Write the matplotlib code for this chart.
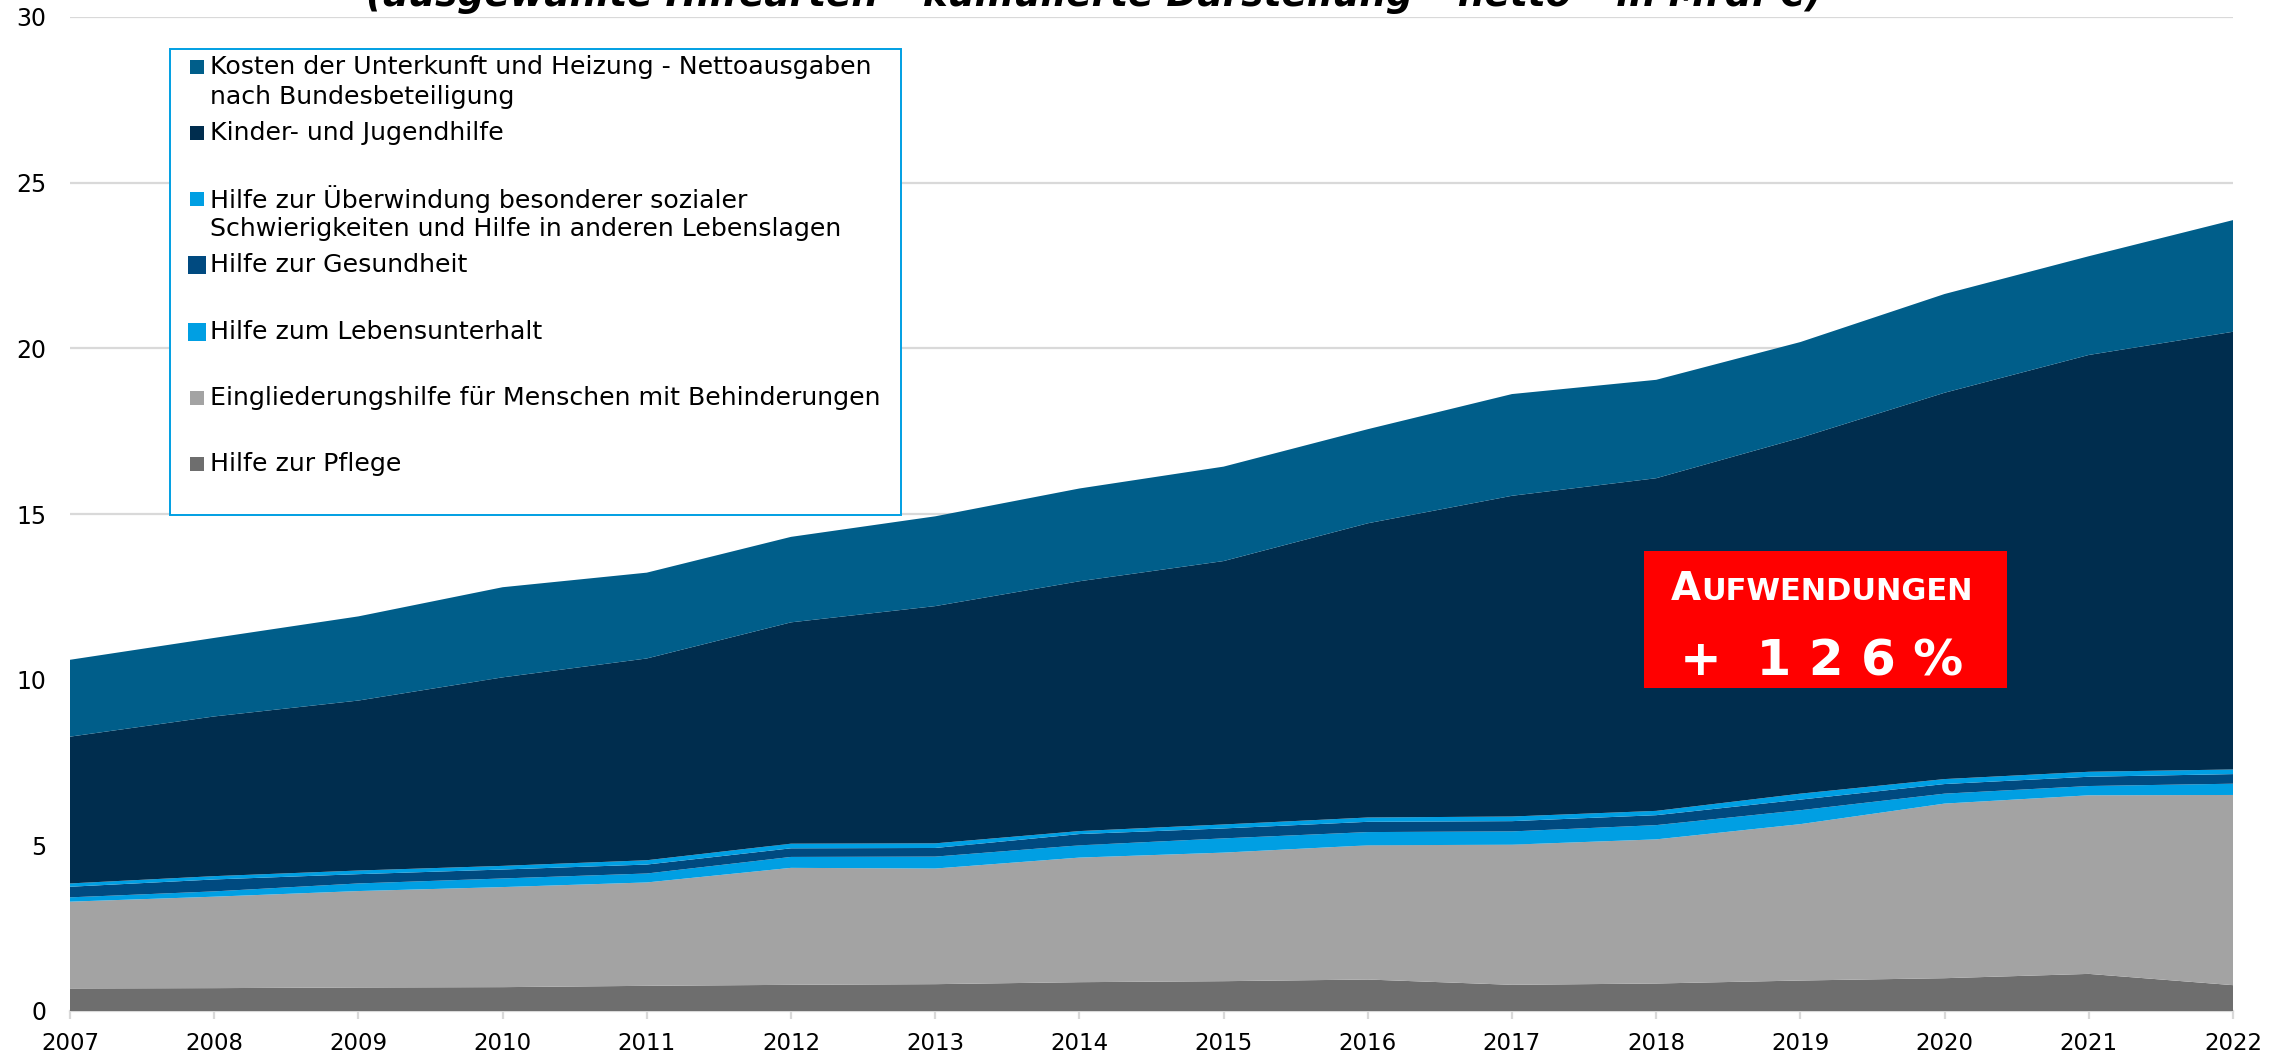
import matplotlib
matplotlib.use("Agg")
import matplotlib.pyplot as plt
from matplotlib.patches import Rectangle
from matplotlib.offsetbox import TextArea, HPacker, AnnotationBbox

# ── Data (Mrd. €, netto, per Hilfeart) ─────────────────────────────────────────
years = [2007, 2008, 2009, 2010, 2011, 2012, 2013, 2014,
         2015, 2016, 2017, 2018, 2019, 2020, 2021, 2022]

pflege       = [0.68, 0.69, 0.71, 0.72, 0.76, 0.79, 0.81, 0.87,
                0.90, 0.95, 0.79, 0.83, 0.92, 0.99, 1.12, 0.78]
eingliederung = [2.62, 2.76, 2.91, 3.02, 3.12, 3.53, 3.49, 3.76,
                 3.88, 4.05, 4.23, 4.35, 4.72, 5.27, 5.39, 5.74]
lebensunterhalt = [0.13, 0.16, 0.23, 0.26, 0.27, 0.33, 0.36, 0.37,
                   0.43, 0.40, 0.40, 0.43, 0.42, 0.30, 0.28, 0.34]
gesundheit   = [0.32, 0.36, 0.28, 0.27, 0.27, 0.26, 0.26, 0.34,
                0.30, 0.31, 0.31, 0.30, 0.32, 0.29, 0.28, 0.29]
ueberwindung = [0.10, 0.10, 0.11, 0.11, 0.13, 0.14, 0.14, 0.09,
                0.12, 0.13, 0.14, 0.13, 0.18, 0.15, 0.15, 0.14]
jugendhilfe  = [4.43, 4.82, 5.13, 5.69, 6.09, 6.68, 7.16, 7.54,
                7.95, 8.88, 9.68, 10.04, 10.74, 11.66, 12.58, 13.21]
unterkunft   = [2.32, 2.37, 2.54, 2.72, 2.59, 2.58, 2.71, 2.80,
                2.85, 2.84, 3.07, 2.97, 2.89, 2.98, 2.98, 3.37]

# bottom → top
series = [pflege, eingliederung, lebensunterhalt, gesundheit,
          ueberwindung, jugendhilfe, unterkunft]
colors = ["#6E6E6E", "#A3A3A3", "#009FE3", "#004A80",
          "#009FE3", "#002D4E", "#005E8A"]

# legend, top → bottom (each entry: lines of text, colour, square size px)
legend_entries = [
    (["Kosten der Unterkunft und Heizung - Nettoausgaben", "nach Bundesbeteiligung"], "#005E8A", 14),
    (["Kinder- und Jugendhilfe"], "#002D4E", 14),
    (["Hilfe zur Überwindung besonderer sozialer",
      "Schwierigkeiten und Hilfe in anderen Lebenslagen"], "#009FE3", 14),
    (["Hilfe zur Gesundheit"], "#004A80", 18),
    (["Hilfe zum Lebensunterhalt"], "#009FE3", 18),
    (["Eingliederungshilfe für Menschen mit Behinderungen"], "#A3A3A3", 14),
    (["Hilfe zur Pflege"], "#6E6E6E", 14),
]

title = "(ausgewählte Hilfearten – kumulierte Darstellung – netto – in Mrd. €)"
GRID = "#D9D9D9"

# ── Figure ─────────────────────────────────────────────────────────────────────
fig = plt.figure(figsize=(22.75, 10.55), dpi=100)
ax = fig.add_axes([70 / 2275, 44 / 1055, 2163 / 2275, 994 / 1055])

ax.stackplot(years, *series, colors=colors, linewidth=0)

ax.set_xlim(2007, 2022)
ax.set_ylim(0, 30)
ax.set_xticks(years)
ax.set_yticks(range(0, 31, 5))
ax.yaxis.grid(True, color=GRID, linewidth=1.6)
ax.set_axisbelow(True)

for s in ["top", "right", "left"]:
    ax.spines[s].set_visible(False)
ax.spines["bottom"].set_color(GRID)
ax.spines["bottom"].set_linewidth(1.6)
ax.spines["bottom"].set_zorder(0.5)

ax.tick_params(axis="x", length=6, width=1.6, color=GRID, pad=9,
               labelsize=16.5, labelcolor="black")
ax.tick_params(axis="y", length=0, pad=17, labelsize=17, labelcolor="black")

# title sits mostly above the canvas, as in the source slide
fig.text(0.481, 1 - 6 / 1055, title, ha="center", va="baseline",
         fontsize=27, fontstyle="italic", fontweight="bold", color="black")

# ── Legend box (drawn by hand to match the spacing) ───────────────────────────
ax.add_patch(Rectangle((0.0462, 0.499), 0.338, 0.469, transform=ax.transAxes,
                       facecolor="white", edgecolor="#009FE3", linewidth=1.4,
                       zorder=5))
ax_w, ax_h = 2163, 994
y0, step, line_gap = 0.950, 0.0666, 0.0300
for k, (lines, col, sz) in enumerate(legend_entries):
    y = y0 - k * step
    w, h = sz / ax_w, sz / ax_h
    ax.add_patch(Rectangle((0.0587 - w / 2, y - h / 2), w, h,
                           transform=ax.transAxes, facecolor=col,
                           edgecolor="none", zorder=6))
    for j, line in enumerate(lines):
        ax.text(0.0647, y - j * line_gap, line, transform=ax.transAxes,
                ha="left", va="center", fontsize=18.2, color="black", zorder=7)

# ── Red callout ───────────────────────────────────────────────────────────────
ax.add_patch(Rectangle((0.7277, 0.325), 0.1678, 0.1378, transform=ax.transAxes,
                       facecolor="#FF0000", edgecolor="none", zorder=5))
head = HPacker(children=[
    TextArea("A", textprops=dict(fontsize=28, fontweight="bold", color="white")),
    TextArea("UFWENDUNGEN", textprops=dict(fontsize=22, fontweight="bold", color="white")),
], align="baseline", pad=0, sep=0)
ab = AnnotationBbox(head, (0.81, 0.405), xycoords="axes fraction",
                    box_alignment=(0.5, 0.0), frameon=False, pad=0, zorder=6)
ax.add_artist(ab)
ax.text(0.81, 0.338, "+  1 2 6 %", transform=ax.transAxes, ha="center",
        va="baseline", fontsize=36, fontweight="bold", color="white", zorder=6)

fig.savefig("out.png", dpi=100)
